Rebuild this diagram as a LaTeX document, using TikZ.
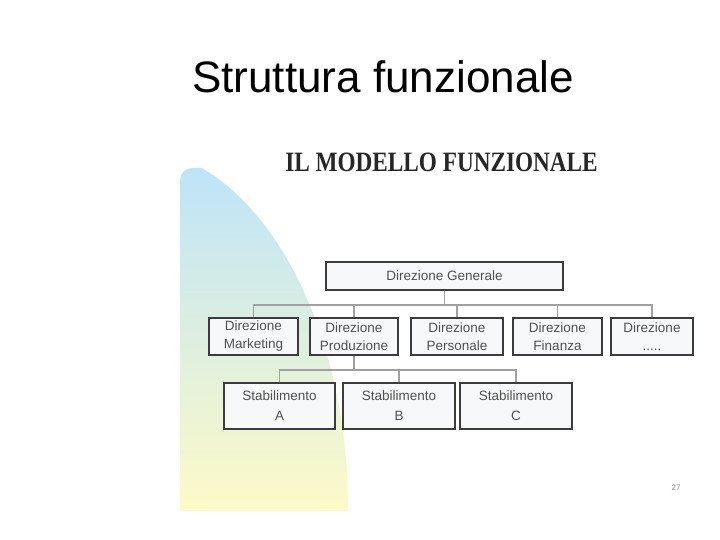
\documentclass[tikz,border=0pt]{standalone}
\usepackage{fontspec}
\setmainfont{Liberation Sans}
\newfontfamily\serifbold{Liberation Serif}
\definecolor{boxline}{RGB}{60,60,60}
\definecolor{boxfill}{RGB}{247,248,250}
\definecolor{conn}{RGB}{160,160,160}
\definecolor{txt}{RGB}{80,80,80}
\definecolor{blobtop}{RGB}{190,228,248}
\definecolor{blobmid}{RGB}{226,241,234}
\definecolor{blobbot}{RGB}{253,250,200}
\begin{document}
\begin{tikzpicture}[x=1pt,y=-1pt,
  orgbox/.style={draw=boxline, line width=1.3pt, fill=boxfill, text=txt,
    align=center, inner sep=0pt, font=\fontsize{13.5}{18}\selectfont},
  wire/.style={draw=conn, line width=1.3pt}]
\useasboundingbox (0,0) rectangle (720,540);
\fill[white] (0,0) rectangle (720,540);
% background blob
\begin{scope}
  \clip (130,510) ellipse [x radius=218, y radius=362];
  \clip[rounded corners=12pt] (180,168) rectangle (420,560);
  \shade[top color=blobtop, middle color=blobmid, bottom color=blobbot]
    (180,168) rectangle (350,510);
\end{scope}
% titles
\node[anchor=base, font=\fontsize{44}{50}\selectfont] (title) at (383,93) {Struttura funzionale};
\node[anchor=base, xscale=0.83, font=\fontsize{28}{32}\selectfont\serifbold\bfseries, text=black!85] (sub) at (441.5,172) {IL MODELLO FUNZIONALE};
% boxes
\node[orgbox, minimum width=237pt, minimum height=28pt] (dg) at (444.5,276) {Direzione Generale};
\node[orgbox, minimum width=89pt, minimum height=37pt] (mk) at (253.5,336.5) {Direzione\\Marketing};
\node[orgbox, minimum width=88pt, minimum height=37pt] (pr) at (354,336.5) {Direzione\\Produzione};
\node[orgbox, minimum width=92pt, minimum height=37pt] (pe) at (457,336.5) {Direzione\\Personale};
\node[orgbox, minimum width=89pt, minimum height=37pt] (fi) at (557.5,336.5) {Direzione\\Finanza};
\node[orgbox, minimum width=82pt, minimum height=37pt] (dd) at (652,336.5) {Direzione\\.....};
\node[orgbox, minimum width=111pt, minimum height=46pt, font=\fontsize{13.5}{20}\selectfont] (sa) at (279.5,406) {Stabilimento\\A};
\node[orgbox, minimum width=112pt, minimum height=46pt, font=\fontsize{13.5}{20}\selectfont] (sb) at (399,406) {Stabilimento\\B};
\node[orgbox, minimum width=112pt, minimum height=46pt, font=\fontsize{13.5}{20}\selectfont] (sc) at (516,406) {Stabilimento\\C};
% connectors
\coordinate (b1) at (444.5,305);
\coordinate (b2) at (354,370);
\draw[wire] (dg.south) -- (b1);
\draw[wire] (mk.north) |- (b1);
\draw[wire] (dd.north) |- (b1);
\draw[wire] (pr.north) -- (pr.north |- b1);
\draw[wire] (pe.north) -- (pe.north |- b1);
\draw[wire] (fi.north) -- (fi.north |- b1);
\draw[wire] (pr.south) -- (b2);
\draw[wire] (sa.north) |- (b2);
\draw[wire] (sc.north) |- (b2);
\draw[wire] (sb.north) -- (sb.north |- b2);
% page number
\node[font=\fontsize{8}{9}\selectfont, text=black!45] (pg) at (676,488) {27};
\end{tikzpicture}
\end{document}
